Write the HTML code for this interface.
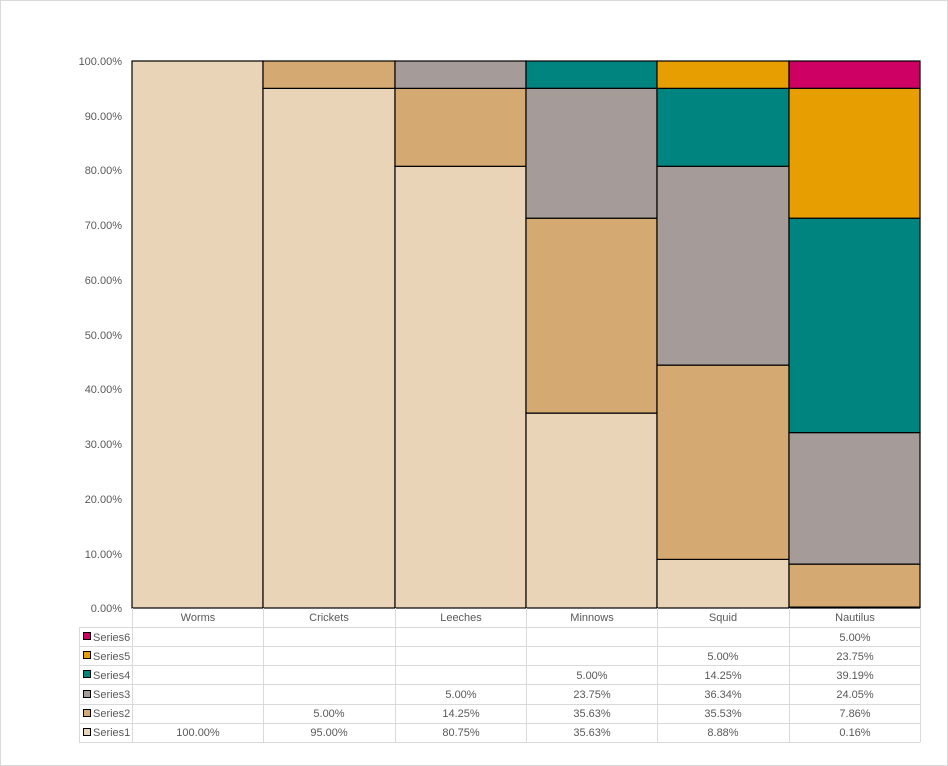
<!DOCTYPE html>
<html><head><style>body{margin:0;background:#fff}svg{display:block}text{font-family:"Liberation Sans",sans-serif;font-size:11px;fill:#595959}</style></head><body>
<svg width="948" height="766" xmlns="http://www.w3.org/2000/svg">
<rect x="0.5" y="0.5" width="947" height="765" fill="#fff" stroke="#d9d9d9"/>
<g text-anchor="end">
<text x="122" y="65">100.00%</text><text x="122" y="120">90.00%</text><text x="122" y="174">80.00%</text><text x="122" y="229">70.00%</text><text x="122" y="284">60.00%</text><text x="122" y="339">50.00%</text><text x="122" y="393">40.00%</text><text x="122" y="448">30.00%</text><text x="122" y="503">20.00%</text><text x="122" y="558">10.00%</text><text x="122" y="612">0.00%</text>
</g>
<g stroke="#000" stroke-width="1.2">
<rect x="132" y="61" width="131" height="547" fill="#E9D4B8"/>
<rect x="263" y="88.35" width="132" height="519.65" fill="#E9D4B8"/>
<rect x="263" y="61" width="132" height="27.35" fill="#D4A972"/>
<rect x="395" y="166.3" width="131" height="441.7" fill="#E9D4B8"/>
<rect x="395" y="88.35" width="131" height="77.95" fill="#D4A972"/>
<rect x="395" y="61" width="131" height="27.35" fill="#A59C9A"/>
<rect x="526" y="413.1" width="131" height="194.9" fill="#E9D4B8"/>
<rect x="526" y="218.2" width="131" height="194.9" fill="#D4A972"/>
<rect x="526" y="88.3" width="131" height="129.9" fill="#A59C9A"/>
<rect x="526" y="61" width="131" height="27.3" fill="#00847F"/>
<rect x="657" y="559.4" width="132" height="48.6" fill="#E9D4B8"/>
<rect x="657" y="365.1" width="132" height="194.3" fill="#D4A972"/>
<rect x="657" y="166.3" width="132" height="198.8" fill="#A59C9A"/>
<rect x="657" y="88.35" width="132" height="77.95" fill="#00847F"/>
<rect x="657" y="61" width="132" height="27.35" fill="#E79E00"/>
<rect x="789" y="607.1" width="131" height="0.9" fill="#E9D4B8"/>
<rect x="789" y="564.1" width="131" height="43" fill="#D4A972"/>
<rect x="789" y="432.6" width="131" height="131.5" fill="#A59C9A"/>
<rect x="789" y="218.2" width="131" height="214.4" fill="#00847F"/>
<rect x="789" y="88.3" width="131" height="129.9" fill="#E79E00"/>
<rect x="789" y="61" width="131" height="27.3" fill="#CE0063"/>
</g>
<g stroke="#d9d9d9" stroke-width="1">
<line x1="79" y1="627.5" x2="920" y2="627.5"/><line x1="79" y1="646.5" x2="920" y2="646.5"/><line x1="79" y1="665.5" x2="920" y2="665.5"/><line x1="79" y1="684.5" x2="920" y2="684.5"/><line x1="79" y1="704.5" x2="920" y2="704.5"/><line x1="79" y1="723.5" x2="920" y2="723.5"/><line x1="79" y1="742.5" x2="920" y2="742.5"/>
<line x1="79.5" y1="627" x2="79.5" y2="742"/>
<line x1="132.5" y1="608" x2="132.5" y2="742"/><line x1="263.5" y1="608" x2="263.5" y2="742"/><line x1="395.5" y1="608" x2="395.5" y2="742"/><line x1="526.5" y1="608" x2="526.5" y2="742"/><line x1="657.5" y1="608" x2="657.5" y2="742"/><line x1="789.5" y1="608" x2="789.5" y2="742"/><line x1="920.5" y1="608" x2="920.5" y2="742"/>
</g>
<g stroke="#000" stroke-width="1">
<rect x="83.5" y="632.5" width="7" height="7" fill="#CE0063"/>
<rect x="83.5" y="651.5" width="7" height="7" fill="#E79E00"/>
<rect x="83.5" y="670.5" width="7" height="7" fill="#00847F"/>
<rect x="83.5" y="690.5" width="7" height="7" fill="#A59C9A"/>
<rect x="83.5" y="709.5" width="7" height="7" fill="#D4A972"/>
<rect x="83.5" y="728.5" width="7" height="7" fill="#E9D4B8"/>
</g>
<text x="93" y="641">Series6</text><text x="93" y="660">Series5</text><text x="93" y="679">Series4</text><text x="93" y="698">Series3</text><text x="93" y="717">Series2</text><text x="93" y="736">Series1</text>
<g text-anchor="middle">
<text x="198" y="621">Worms</text><text x="329" y="621">Crickets</text><text x="461" y="621">Leeches</text><text x="592" y="621">Minnows</text><text x="723" y="621">Squid</text><text x="855" y="621">Nautilus</text>
<text x="855" y="641">5.00%</text>
<text x="723" y="660">5.00%</text><text x="855" y="660">23.75%</text>
<text x="592" y="679">5.00%</text><text x="723" y="679">14.25%</text><text x="855" y="679">39.19%</text>
<text x="461" y="698">5.00%</text><text x="592" y="698">23.75%</text><text x="723" y="698">36.34%</text><text x="855" y="698">24.05%</text>
<text x="329" y="717">5.00%</text><text x="461" y="717">14.25%</text><text x="592" y="717">35.63%</text><text x="723" y="717">35.53%</text><text x="855" y="717">7.86%</text>
<text x="198" y="736">100.00%</text><text x="329" y="736">95.00%</text><text x="461" y="736">80.75%</text><text x="592" y="736">35.63%</text><text x="723" y="736">8.88%</text><text x="855" y="736">0.16%</text>
</g>
</svg>
</body></html>
